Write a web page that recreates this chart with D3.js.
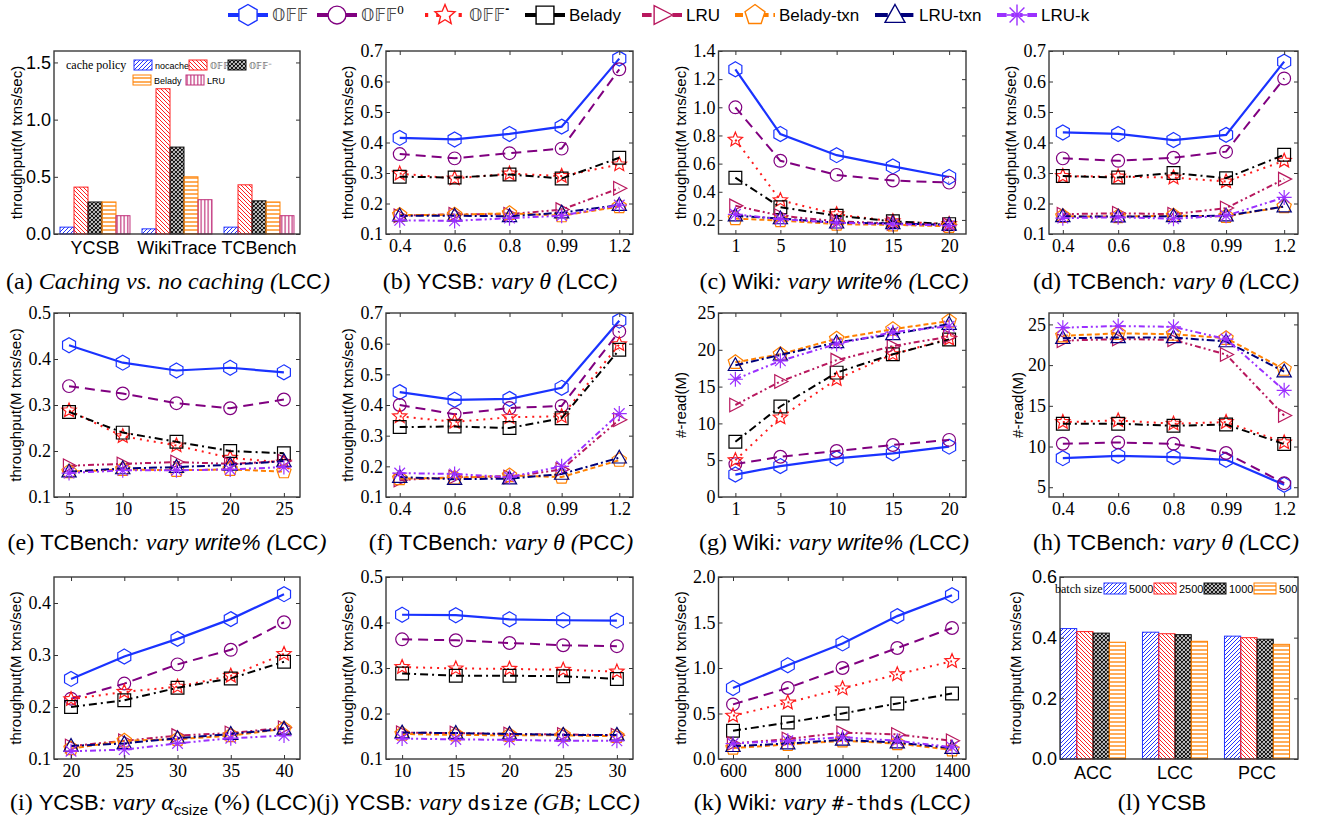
<!DOCTYPE html>
<html>
<head>
<meta charset="utf-8">
<script src="https://cdn.jsdelivr.net/npm/d3@7"></script>
<style>
body { margin: 0; background: #fff; }
</style>
</head>
<body>
<svg id="fig" width="1325" height="825"></svg>
<script>
// ---- data ----
var seriesNames = ["OFF", "OFF0", "OFF-", "Belady", "LRU", "Belady-txn", "LRU-txn", "LRU-k"];

var thetaX = [0.4, 0.6, 0.8, 0.99, 1.2];
var wikiWriteX = [1, 5, 10, 15, 20];
var tcWriteX = [5, 10, 15, 20, 25];
var csizeX = [20, 25, 30, 35, 40];
var dsizeX = [10, 15, 20, 25, 30];
var thdsX = [600, 800, 1000, 1200, 1400];

// (b) YCSB vary theta (LCC)
var ycsbTheta = [
  [0.415, 0.41, 0.428, 0.452, 0.675],
  [0.362, 0.348, 0.365, 0.38, 0.64],
  [0.298, 0.282, 0.298, 0.29, 0.328],
  [0.288, 0.285, 0.295, 0.282, 0.35],
  [0.16, 0.165, 0.165, 0.18, 0.25],
  [0.162, 0.163, 0.168, 0.16, 0.19],
  [0.16, 0.16, 0.158, 0.17, 0.195],
  [0.145, 0.143, 0.152, 0.16, 0.195]
];
// (c) Wiki vary write% (LCC)
var wikiWrite = [
  [1.27, 0.81, 0.66, 0.58, 0.505],
  [1.0, 0.62, 0.52, 0.48, 0.465],
  [0.77, 0.34, 0.24, 0.19, 0.17],
  [0.50, 0.29, 0.23, 0.19, 0.17],
  [0.30, 0.23, 0.19, 0.175, 0.165],
  [0.21, 0.195, 0.17, 0.165, 0.155],
  [0.23, 0.21, 0.18, 0.175, 0.165],
  [0.24, 0.205, 0.18, 0.17, 0.16]
];
// (d) TCBench vary theta (LCC)
var tcTheta = [
  [0.433, 0.428, 0.408, 0.425, 0.665],
  [0.348, 0.34, 0.35, 0.37, 0.61],
  [0.29, 0.288, 0.285, 0.272, 0.34],
  [0.29, 0.285, 0.3, 0.283, 0.36],
  [0.165, 0.168, 0.165, 0.185, 0.28],
  [0.158, 0.157, 0.16, 0.158, 0.19],
  [0.158, 0.157, 0.158, 0.16, 0.19],
  [0.152, 0.155, 0.15, 0.16, 0.22]
];
// (e) TCBench vary write% (LCC)
var tcWrite = [
  [0.43, 0.392, 0.375, 0.381, 0.371],
  [0.341, 0.325, 0.304, 0.293, 0.312],
  [0.288, 0.232, 0.212, 0.185, 0.175],
  [0.285, 0.24, 0.22, 0.2, 0.195],
  [0.168, 0.172, 0.176, 0.172, 0.178],
  [0.155, 0.16, 0.158, 0.16, 0.155],
  [0.155, 0.162, 0.165, 0.17, 0.178],
  [0.152, 0.158, 0.158, 0.16, 0.165]
];
// (f) TCBench vary theta (PCC)
var tcThetaPcc = [
  [0.442, 0.417, 0.42, 0.456, 0.675],
  [0.40, 0.37, 0.39, 0.397, 0.64],
  [0.363, 0.345, 0.36, 0.363, 0.598],
  [0.328, 0.33, 0.325, 0.357, 0.58],
  [0.155, 0.165, 0.165, 0.19, 0.352],
  [0.16, 0.162, 0.17, 0.165, 0.22],
  [0.165, 0.158, 0.16, 0.175, 0.228],
  [0.178, 0.175, 0.165, 0.2, 0.372]
];
// (g) Wiki #-read vary write%
var wikiRead = [
  [3.05, 4.2, 5.25, 5.93, 6.84],
  [4.47, 5.47, 6.25, 7.07, 7.76],
  [5.0, 10.8, 16.0, 19.4, 21.5],
  [7.5, 12.3, 16.9, 19.4, 21.4],
  [12.5, 15.7, 18.6, 20.5, 21.8],
  [18.3, 19.4, 21.5, 22.8, 23.9],
  [17.9, 19.3, 21.0, 22.1, 23.5],
  [16.0, 18.5, 20.8, 22.4, 23.2]
];
// (h) TCBench #-read vary theta
var tcRead = [
  [8.57, 8.86, 8.7, 8.37, 5.3],
  [10.34, 10.5, 10.34, 9.2, 5.5],
  [13.0, 13.2, 12.8, 13.0, 10.5],
  [12.8, 12.8, 12.55, 12.7, 10.3],
  [23.0, 23.2, 23.1, 21.3, 13.8],
  [23.6, 23.9, 23.8, 23.3, 19.5],
  [23.3, 23.4, 23.4, 22.9, 19.2],
  [24.6, 24.8, 24.7, 23.2, 16.9]
];
// (i) YCSB vary alpha_csize (LCC)
var ycsbCsize = [
  [0.254, 0.297, 0.331, 0.369, 0.417],
  [0.216, 0.245, 0.282, 0.31, 0.363],
  [0.215, 0.229, 0.239, 0.26, 0.302],
  [0.2, 0.213, 0.237, 0.255, 0.287],
  [0.125, 0.135, 0.145, 0.15, 0.16],
  [0.12, 0.135, 0.138, 0.145, 0.158],
  [0.125, 0.13, 0.14, 0.148, 0.158],
  [0.115, 0.118, 0.13, 0.14, 0.145]
];
// (j) YCSB vary dsize (LCC)
var ycsbDsize = [
  [0.417, 0.416, 0.407, 0.405, 0.404],
  [0.363, 0.361, 0.355, 0.35, 0.348],
  [0.302, 0.299, 0.298, 0.296, 0.292],
  [0.288, 0.283, 0.283, 0.282, 0.276],
  [0.158, 0.157, 0.155, 0.154, 0.152],
  [0.155, 0.153, 0.152, 0.152, 0.15],
  [0.158, 0.157, 0.155, 0.153, 0.153],
  [0.145, 0.143, 0.142, 0.14, 0.14]
];
// (k) Wiki vary #-thds (LCC)
var wikiThds = [
  [0.78, 1.03, 1.27, 1.57, 1.80],
  [0.60, 0.78, 1.0, 1.22, 1.44],
  [0.475, 0.62, 0.775, 0.93, 1.075],
  [0.31, 0.40, 0.50, 0.61, 0.72],
  [0.17, 0.22, 0.29, 0.27, 0.20],
  [0.12, 0.16, 0.20, 0.17, 0.10],
  [0.14, 0.17, 0.21, 0.18, 0.12],
  [0.17, 0.20, 0.24, 0.20, 0.13]
];

// (a) caching vs no caching
var cacheWorkloads = ["YCSB", "WikiTrace", "TCBench"];
var cachePolicies = ["nocache", "OFF", "OFF-", "Belady", "LRU"];
var cacheVals = [
  [0.06, 0.41, 0.28, 0.28, 0.16],
  [0.045, 1.27, 0.76, 0.50, 0.30],
  [0.06, 0.43, 0.29, 0.28, 0.16]
];

// (l) batch size
var batchProtocols = ["ACC", "LCC", "PCC"];
var batchSizes = ["5000", "2500", "1000", "500"];
var batchVals = [
  [0.43, 0.42, 0.415, 0.385],
  [0.418, 0.413, 0.41, 0.388],
  [0.405, 0.40, 0.395, 0.378]
];

// ---- styles ----
var SERIF = "'Liberation Serif', 'Times New Roman', serif";
var SANS = "'Liberation Sans', Arial, sans-serif";
var MONO = "'DejaVu Sans Mono', 'Liberation Mono', monospace";
var DS = "'DejaVu Sans', 'DejaVu Serif', serif";

var seriesStyle = [
  { color: "#1a33ff", dash: null, marker: "hex" },
  { color: "#800080", dash: "10,6", marker: "circle" },
  { color: "#ff1a1a", dash: "2,5", marker: "star" },
  { color: "#000000", dash: "8,4,2,4", marker: "square" },
  { color: "#b8185e", dash: "6,3,2,3,2,3", marker: "triR" },
  { color: "#ff8000", dash: "5,3", marker: "pent" },
  { color: "#00007a", dash: "8,3,2,3", marker: "triU" },
  { color: "#9b30ff", dash: "6,3,2,3,2,3", marker: "ast" }
];

var svg = d3.select("#fig");
var defs = svg.append("defs");

function hatch(id, color, size, d, sw) {
  defs.append("pattern").attr("id", id)
    .attr("patternUnits", "userSpaceOnUse")
    .attr("width", size).attr("height", size)
    .append("path").attr("d", d)
    .attr("stroke", color).attr("stroke-width", sw).attr("fill", "none");
}
hatch("pBlue", "#2233ff", 4, "M-1,1 l2,-2 M0,4 l4,-4 M3,5 l2,-2", 1);
hatch("pRed", "#ff2020", 4, "M-1,3 l2,2 M0,0 l4,4 M3,-1 l2,2", 1);
hatch("pBlack", "#111", 4, "M-1,1 l2,-2 M0,4 l4,-4 M3,5 l2,-2 M-1,3 l2,2 M0,0 l4,4 M3,-1 l2,2", 1.2);
hatch("pOrange", "#ff8000", 4, "M0,2 h4", 1.3);
hatch("pPink", "#c0307a", 3.5, "M1.7,0 v4", 1.2);

var cacheFill = ["pBlue", "pRed", "pBlack", "pOrange", "pPink"];
var cacheStroke = ["#2233ff", "#ff2020", "#111", "#ff8000", "#c0307a"];

function markerD(type, r) {
  var p = d3.path(), i, a;
  function poly(n, start) {
    for (i = 0; i < n; i++) {
      a = (start + i * 360 / n) * Math.PI / 180;
      if (i === 0) p.moveTo(r * Math.cos(a), r * Math.sin(a));
      else p.lineTo(r * Math.cos(a), r * Math.sin(a));
    }
    p.closePath();
  }
  if (type === "hex") poly(6, -90);
  else if (type === "pent") poly(5, -90);
  else if (type === "circle") { p.moveTo(r * 0.85, 0); p.arc(0, 0, r * 0.85, 0, 2 * Math.PI); }
  else if (type === "square") p.rect(-r * 0.85, -r * 0.85, r * 1.7, r * 1.7);
  else if (type === "triR") { p.moveTo(r, 0); p.lineTo(-r * 0.75, -r * 0.9); p.lineTo(-r * 0.75, r * 0.9); p.closePath(); }
  else if (type === "triU") { p.moveTo(0, -r); p.lineTo(r * 0.95, r * 0.7); p.lineTo(-r * 0.95, r * 0.7); p.closePath(); }
  else if (type === "star") {
    for (i = 0; i < 10; i++) {
      a = (-90 + i * 36) * Math.PI / 180;
      var rr = i % 2 ? r * 0.45 : r;
      if (i === 0) p.moveTo(rr * Math.cos(a), rr * Math.sin(a));
      else p.lineTo(rr * Math.cos(a), rr * Math.sin(a));
    }
    p.closePath();
  } else if (type === "ast") {
    for (i = 0; i < 4; i++) {
      a = i * Math.PI / 4;
      p.moveTo(-r * Math.cos(a), -r * Math.sin(a));
      p.lineTo(r * Math.cos(a), r * Math.sin(a));
    }
  }
  return p.toString();
}

// ---- layout ----
var colX0 = [54, 386, 718.5, 1049];
var colX1 = [300, 633, 966, 1298];
var rowY0 = [51, 313, 577];
var rowY1 = [234, 497, 759];

function frame(g, x0, y0, x1, y1, x, xTicks, xFmt, xFont, y, yTicks, yFmt, yFont) {
  var ax;
  if (x) {
    ax = g.append("g").attr("transform", "translate(0," + y1 + ")")
      .call(d3.axisBottom(x).tickValues(xTicks).tickFormat(xFmt).tickSizeInner(-4).tickSizeOuter(0).tickPadding(5));
    ax.select(".domain").remove();
    ax.selectAll("text").style("font-family", xFont).style("font-size", "18px").attr("fill", "#000");
    g.append("g").attr("transform", "translate(0," + y0 + ")")
      .call(d3.axisTop(x).tickValues(xTicks).tickFormat("").tickSizeInner(-4).tickSizeOuter(0))
      .select(".domain").remove();
  }
  ax = g.append("g").attr("transform", "translate(" + x0 + ",0)")
    .call(d3.axisLeft(y).tickValues(yTicks).tickFormat(yFmt).tickSizeInner(-4).tickSizeOuter(0).tickPadding(3));
  ax.select(".domain").remove();
  ax.selectAll("text").style("font-family", yFont).style("font-size", "18px").attr("fill", "#000");
  g.append("g").attr("transform", "translate(" + x1 + ",0)")
    .call(d3.axisRight(y).tickValues(yTicks).tickFormat("").tickSizeInner(-4).tickSizeOuter(0))
    .select(".domain").remove();
  g.selectAll(".tick line").attr("stroke", "#333");
  g.append("rect").attr("x", x0).attr("y", y0).attr("width", x1 - x0).attr("height", y1 - y0)
    .attr("fill", "none").attr("stroke", "#3a3a3a").attr("stroke-width", 1.4);
}

function yLabel(g, x, yc, txt) {
  g.append("text").attr("transform", "translate(" + x + "," + yc + ") rotate(-90)")
    .attr("text-anchor", "middle").attr("dy", "0.35em")
    .style("font-family", SANS).style("font-size", "15px").text(txt);
}

function linePanel(col, row, xs, xDom, data, yDom, yTicks, yFmt, ylab, ylabOff) {
  var x0 = colX0[col], x1 = colX1[col], y0 = rowY0[row], y1 = rowY1[row];
  var g = svg.append("g");
  var x = d3.scaleLinear().domain(xDom).range([x0, x1]);
  var y = d3.scaleLinear().domain(yDom).range([y1, y0]);
  var line = d3.line().x(function (d, i) { return x(xs[i]); }).y(function (d) { return y(d); });
  data.forEach(function (vals, s) {
    var st = seriesStyle[s];
    g.append("path").attr("d", line(vals)).attr("fill", "none")
      .attr("stroke", st.color).attr("stroke-width", s === 0 ? 2.2 : 2)
      .attr("stroke-dasharray", st.dash);
    g.selectAll(null).data(vals).enter().append("path")
      .attr("transform", function (d, i) { return "translate(" + x(xs[i]) + "," + y(d) + ")"; })
      .attr("d", markerD(st.marker, 7.5))
      .attr("fill", "none").attr("stroke", st.color).attr("stroke-width", 1.2);
  });
  frame(g, x0, y0, x1, y1, x, xs, function (d) { return String(d); }, SERIF, y, yTicks, yFmt, SERIF);
  yLabel(g, x0 - (ylabOff || 38), (y0 + y1) / 2, ylab);
}

var TP = "throughput(M txns/sec)";
var f1 = d3.format(".1f");
var fd = d3.format("d");
var thetaDom = [0.35, 1.25];

linePanel(1, 0, thetaX, thetaDom, ycsbTheta, [0.1, 0.7], [0.1, 0.2, 0.3, 0.4, 0.5, 0.6, 0.7], f1, TP);
linePanel(2, 0, wikiWriteX, [-0.5, 21.5], wikiWrite, [0.1, 1.4], [0.2, 0.4, 0.6, 0.8, 1.0, 1.2, 1.4], f1, TP);
linePanel(3, 0, thetaX, thetaDom, tcTheta, [0.1, 0.7], [0.1, 0.2, 0.3, 0.4, 0.5, 0.6, 0.7], f1, TP);
linePanel(0, 1, tcWriteX, [3.6, 26.5], tcWrite, [0.1, 0.5], [0.1, 0.2, 0.3, 0.4, 0.5], f1, TP);
linePanel(1, 1, thetaX, thetaDom, tcThetaPcc, [0.1, 0.7], [0.1, 0.2, 0.3, 0.4, 0.5, 0.6, 0.7], f1, TP);
linePanel(2, 1, wikiWriteX, [-0.5, 21.5], wikiRead, [0, 25], [0, 5, 10, 15, 20, 25], fd, "#-read(M)");
linePanel(3, 1, thetaX, thetaDom, tcRead, [3.8, 26.4], [5, 10, 15, 20, 25], fd, "#-read(M)", 31);
linePanel(0, 2, csizeX, [18.4, 41.5], ycsbCsize, [0.1, 0.45], [0.1, 0.2, 0.3, 0.4], f1, TP);
linePanel(1, 2, dsizeX, [8.5, 31.5], ycsbDsize, [0.1, 0.5], [0.1, 0.2, 0.3, 0.4, 0.5], f1, TP);
linePanel(2, 2, thdsX, [547, 1451], wikiThds, [0, 2], [0, 0.5, 1.0, 1.5, 2.0], f1, TP);

// ---- (a) bar panel ----
(function () {
  var x0 = colX0[0], x1 = colX1[0], y0 = rowY0[0], y1 = rowY1[0];
  var g = svg.append("g");
  var gx = d3.scaleBand().domain(cacheWorkloads).range([x0, x1]);
  var bx = d3.scaleBand().domain(cachePolicies).range([0, gx.bandwidth()]).paddingOuter(0.43);
  var y = d3.scaleLinear().domain([0, 1.6]).range([y1, y0]);
  cacheVals.forEach(function (vals, gi) {
    g.selectAll(null).data(vals).enter().append("rect")
      .attr("x", function (d, i) { return gx(cacheWorkloads[gi]) + bx(cachePolicies[i]); })
      .attr("y", function (d) { return y(d); })
      .attr("width", bx.bandwidth())
      .attr("height", function (d) { return y1 - y(d); })
      .attr("fill", function (d, i) { return "url(#" + cacheFill[i] + ")"; })
      .attr("stroke", function (d, i) { return cacheStroke[i]; }).attr("stroke-width", 1);
  });
  frame(g, x0, y0, x1, y1, null, null, null, null, y, [0, 0.5, 1.0, 1.5], f1, SANS);
  g.selectAll(null).data(cacheWorkloads).enter().append("text")
    .attr("x", function (d) { return gx(d) + gx.bandwidth() / 2; }).attr("y", y1 + 20)
    .attr("text-anchor", "middle").style("font-family", SANS).style("font-size", "18px")
    .text(function (d) { return d; });
  yLabel(g, x0 - 37, (y0 + y1) / 2, TP);
  // legend
  g.append("text").attr("x", 66).attr("y", 69).style("font-family", SERIF).style("font-size", "12px").text("cache policy");
  var lx = [134, 189, 228, 133, 186], ly = [60, 60, 60, 75, 75];
  cachePolicies.forEach(function (p, i) {
    g.append("rect").attr("x", lx[i]).attr("y", ly[i]).attr("width", 18).attr("height", 10)
      .attr("fill", "url(#" + cacheFill[i] + ")").attr("stroke", cacheStroke[i]).attr("stroke-width", 1);
    var t = g.append("text").attr("x", lx[i] + 21).attr("y", ly[i] + 8.5).style("font-size", "9px");
    if (p.indexOf("OFF") === 0) {
      t.style("font-family", DS).style("fill", "#555").text("\u{1D546}\u{1D53D}\u{1D53D}");
      if (p === "OFF-") t.append("tspan").attr("dy", -3).style("font-size", "7px").text("\u2013");
    } else {
      t.style("font-family", SANS).text(p);
    }
  });
})();

// ---- (l) bar panel ----
(function () {
  var x0 = 1060, x1 = colX1[3], y0 = rowY0[2], y1 = rowY1[2];
  var g = svg.append("g");
  var gx = d3.scaleBand().domain(batchProtocols).range([1052, x1]);
  var bx = d3.scaleBand().domain(batchSizes).range([0, gx.bandwidth()]).paddingOuter(0.52);
  var y = d3.scaleLinear().domain([0, 0.6]).range([y1, y0]);
  batchVals.forEach(function (vals, gi) {
    g.selectAll(null).data(vals).enter().append("rect")
      .attr("x", function (d, i) { return gx(batchProtocols[gi]) + bx(batchSizes[i]); })
      .attr("y", function (d) { return y(d); })
      .attr("width", bx.bandwidth())
      .attr("height", function (d) { return y1 - y(d); })
      .attr("fill", function (d, i) { return "url(#" + cacheFill[i] + ")"; })
      .attr("stroke", function (d, i) { return cacheStroke[i]; }).attr("stroke-width", 1);
  });
  frame(g, x0, y0, x1, y1, null, null, null, null, y, [0, 0.2, 0.4, 0.6], f1, SANS);
  g.selectAll(null).data(batchProtocols).enter().append("text")
    .attr("x", function (d) { return gx(d) + gx.bandwidth() / 2; }).attr("y", y1 + 20)
    .attr("text-anchor", "middle").style("font-family", SANS).style("font-size", "18px")
    .text(function (d) { return d; });
  yLabel(g, x0 - 44, (y0 + y1) / 2, TP);
  g.append("text").attr("x", 1055).attr("y", 593).style("font-family", SERIF).style("font-size", "12px").text("batch size");
  batchSizes.forEach(function (b, i) {
    var lx = 1104 + i * 50;
    g.append("rect").attr("x", lx).attr("y", 583).attr("width", 22).attr("height", 11)
      .attr("fill", "url(#" + cacheFill[i] + ")").attr("stroke", cacheStroke[i]).attr("stroke-width", 1);
    g.append("text").attr("x", lx + 25).attr("y", 593).style("font-family", SANS).style("font-size", "11px").text(b);
  });
})();

// ---- top legend ----
(function () {
  var g = svg.append("g");
  var legX = [248, 337, 445, 545, 662, 755, 895, 1017];
  seriesNames.forEach(function (name, i) {
    var st = seriesStyle[i], cx = legX[i];
    g.append("line").attr("x1", cx - 20).attr("x2", cx + 20).attr("y1", 15).attr("y2", 15)
      .attr("stroke", st.color).attr("stroke-width", 4)
      .attr("stroke-dasharray", st.dash ? st.dash.split(",").map(function (v) { return v * 1.6; }).join(",") : null);
    g.append("path").attr("transform", "translate(" + cx + ",15)").attr("d", markerD(st.marker, 10.5))
      .attr("fill", "#fff").attr("stroke", st.color).attr("stroke-width", 1.4);
    var t = g.append("text").attr("x", cx + 24).attr("y", 21).style("font-size", "17px");
    if (name.indexOf("OFF") === 0) {
      t.style("font-family", DS).style("fill", "#444").text("\u{1D546}\u{1D53D}\u{1D53D}");
      if (name === "OFF0") t.append("tspan").attr("dy", -7).style("font-family", SERIF).style("font-size", "13px").style("fill", "#000").text("0");
      if (name === "OFF-") t.append("tspan").attr("dy", -8).style("font-family", SANS).style("font-size", "12px").style("font-weight", "bold").style("fill", "#000").text("-");
    } else {
      t.style("font-family", SANS).text(name);
    }
  });
})();

// ---- captions ----
var capFonts = {
  r: [SERIF, "normal", 24], i: [SERIF, "italic", 24], s: [SANS, "normal", 22],
  si: [SANS, "italic", 22], m: [MONO, "normal", 20]
};
function caption(cx, cy, parts) {
  var t = svg.append("text").attr("x", cx).attr("y", cy).attr("text-anchor", "middle");
  parts.forEach(function (p) {
    var ts = t.append("tspan").text(p[0]);
    if (p[1] === "sub") {
      ts.style("font-family", SANS).style("font-size", "15px").attr("dy", 5);
    } else {
      var f = capFonts[p[1]];
      ts.style("font-family", f[0]).style("font-style", f[1]).style("font-size", f[2] + "px");
      if (p[2]) ts.attr("dy", p[2]);
    }
  });
}
caption(168, 289, [["(a) ", "r"], ["Caching vs. no caching (", "i"], ["LCC", "s"], [")", "i"]]);
caption(500, 289, [["(b) ", "r"], ["YCSB", "s"], [": vary \u03B8 (", "i"], ["LCC", "s"], [")", "i"]]);
caption(834, 289, [["(c) ", "r"], ["Wiki", "s"], [": vary ", "i"], ["write%", "si"], [" (", "i"], ["LCC", "s"], [")", "i"]]);
caption(1166, 289, [["(d) ", "r"], ["TCBench", "s"], [": vary \u03B8 (", "i"], ["LCC", "s"], [")", "i"]]);
caption(167, 550, [["(e) ", "r"], ["TCBench", "s"], [": vary ", "i"], ["write%", "si"], [" (", "i"], ["LCC", "s"], [")", "i"]]);
caption(501, 550, [["(f) ", "r"], ["TCBench", "s"], [": vary \u03B8 (", "i"], ["PCC", "s"], [")", "i"]]);
caption(834, 550, [["(g) ", "r"], ["Wiki", "s"], [": vary ", "i"], ["write%", "si"], [" (", "i"], ["LCC", "s"], [")", "i"]]);
caption(1166, 550, [["(h) ", "r"], ["TCBench", "s"], [": vary \u03B8 (", "i"], ["LCC", "s"], [")", "i"]]);
caption(163, 810, [["(i) ", "r"], ["YCSB", "s"], [": vary \u03B1", "i"], ["csize", "sub"], [" (%) (", "r", -5], ["LCC", "s"], [")", "r"]]);
caption(478, 810, [["(j) ", "r"], ["YCSB", "s"], [": vary ", "i"], ["dsize", "m"], [" (GB; ", "i"], ["LCC", "s"], [")", "i"]]);
caption(832, 810, [["(k) ", "r"], ["Wiki", "s"], [": vary ", "i"], ["#-thds", "m"], [" (", "i"], ["LCC", "s"], [")", "i"]]);
caption(1162, 810, [["(l) ", "r"], ["YCSB", "s"]]);
</script>
</body>
</html>
